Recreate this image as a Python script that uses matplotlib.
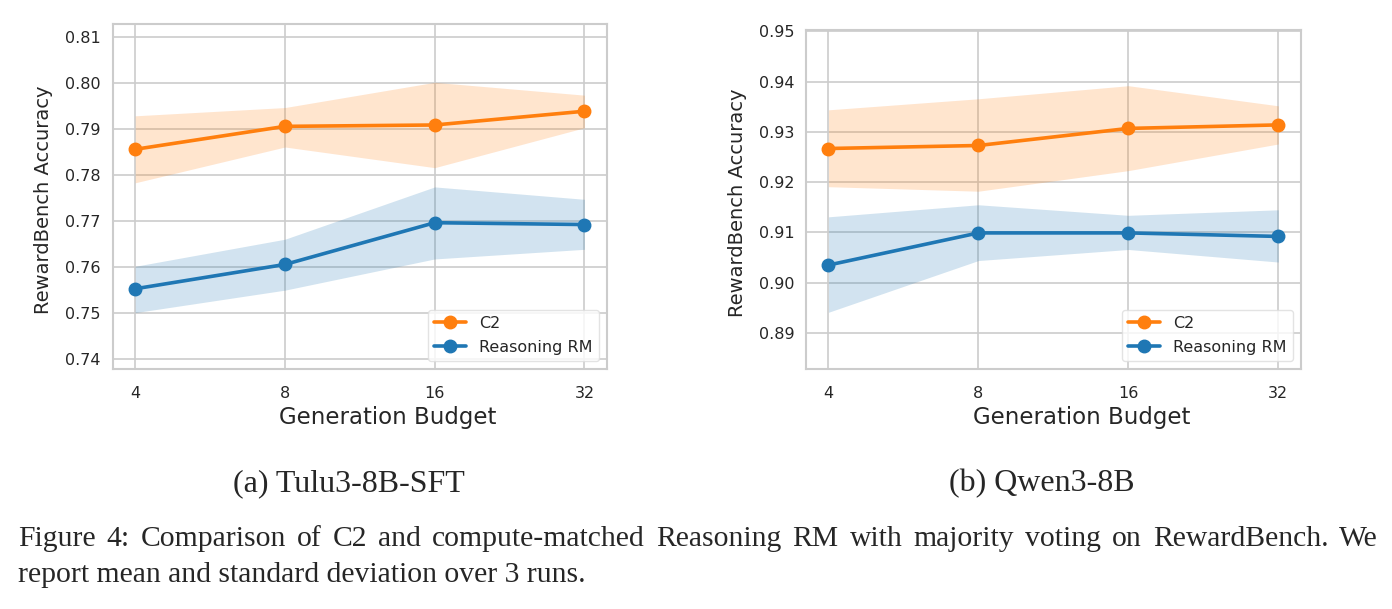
import matplotlib
matplotlib.use("Agg")
import matplotlib.pyplot as plt
import numpy as np
import seaborn as sns

budgets = [4, 8, 16, 32]

# (a) Tulu3-8B-SFT
tulu_c2 = [0.7856, 0.7906, 0.7909, 0.7939]
tulu_c2_lo = [0.7783, 0.7861, 0.7816, 0.7903]
tulu_c2_hi = [0.7929, 0.7947, 0.8002, 0.7974]
tulu_rm = [0.7552, 0.7605, 0.7696, 0.7692]
tulu_rm_lo = [0.7500, 0.7549, 0.7617, 0.7638]
tulu_rm_hi = [0.7601, 0.7660, 0.7774, 0.7747]

# (b) Qwen3-8B
qwen_c2 = [0.9267, 0.9273, 0.9307, 0.9314]
qwen_c2_lo = [0.9191, 0.9182, 0.9223, 0.9276]
qwen_c2_hi = [0.9344, 0.9366, 0.9392, 0.9352]
qwen_rm = [0.9035, 0.9099, 0.9099, 0.9092]
qwen_rm_lo = [0.8941, 0.9044, 0.9066, 0.9041]
qwen_rm_hi = [0.9131, 0.9155, 0.9134, 0.9145]

caption_1 = 'Figure 4: Comparison of C2 and compute-matched Reasoning RM with majority voting on RewardBench.  We'
caption_2 = 'report mean and standard deviation over 3 runs.'

sns.set_style("whitegrid")
plt.rcParams['font.family'] = ['DejaVu Sans']

W, H = 1392, 609
fig = plt.figure(figsize=(W / 100, H / 100), dpi=100)
ax1 = fig.add_axes([0.081, 0.394, 0.355, 0.5665])
ax2 = fig.add_axes([0.579, 0.394, 0.3555, 0.556])

x = np.arange(len(budgets))


def panel(ax, c2, c2_lo, c2_hi, rm, rm_lo, rm_hi, yticks, ylim):
    ax.fill_between(x, c2_lo, c2_hi, color='tab:orange', alpha=0.2, lw=0)
    ax.plot(x, c2, '-o', color='tab:orange', lw=2.6, ms=9, label='C2')
    ax.fill_between(x, rm_lo, rm_hi, color='tab:blue', alpha=0.2, lw=0)
    ax.plot(x, rm, '-o', color='tab:blue', lw=2.6, ms=9, label='Reasoning RM')
    ax.set_xticks(x)
    ax.set_xticklabels([str(b) for b in budgets])
    ax.set_yticks(yticks)
    ax.set_yticklabels(['%.2f' % t for t in yticks])
    ax.set_ylim(*ylim)
    ax.set_xlim(-0.15, 3.15)
    ax.tick_params(axis='y', labelsize=11.5, colors='#262626', pad=5)
    ax.tick_params(axis='x', labelsize=11.5, colors='#262626', pad=9)
    ax.set_xlabel('Generation Budget', fontsize=16.5, color='#262626')
    ax.set_ylabel('RewardBench Accuracy', fontsize=14, color='#262626')
    for s in ax.spines.values():
        s.set_color('#cccccc')
        s.set_linewidth(1.5)
    ax.grid(color='#cccccc', lw=1.2)
    leg = ax.legend(loc='lower right', fontsize=11.5, frameon=True,
                    borderaxespad=0.5, handlelength=2.0, labelspacing=0.55)
    leg.get_frame().set_edgecolor('#dddddd')


panel(ax1, tulu_c2, tulu_c2_lo, tulu_c2_hi, tulu_rm, tulu_rm_lo, tulu_rm_hi,
      [0.74, 0.75, 0.76, 0.77, 0.78, 0.79, 0.80, 0.81], (0.7377, 0.8129))
panel(ax2, qwen_c2, qwen_c2_lo, qwen_c2_hi, qwen_rm, qwen_rm_lo, qwen_rm_hi,
      [0.89, 0.90, 0.91, 0.92, 0.93, 0.94, 0.95], (0.8828, 0.9502))

ax1.yaxis.set_label_coords(-0.121, 0.49)
ax2.yaxis.set_label_coords(-0.119, 0.49)
ax1.xaxis.set_label_coords(0.556, -0.107)
ax2.xaxis.set_label_coords(0.558, -0.109)

serif = 'Liberation Serif'
fig.text(349 / W, 1 - 484 / H, '(a) Tulu3-8B-SFT', family=serif,
         fontsize=23, ha='center', va='center')
fig.text(1042 / W, 1 - 484 / H, '(b) Qwen3-8B', family=serif,
         fontsize=23, ha='center', va='center')

# justified first caption line
cap_fs = 21.3
fig.canvas.draw()
renderer = fig.canvas.get_renderer()
words = caption_1.split()
widths = []
for w in words:
    t = fig.text(0, 0, w, family=serif, fontsize=cap_fs)
    widths.append(t.get_window_extent(renderer).width)
    t.remove()
x0, x1 = 18, 1378
gap = (x1 - x0 - sum(widths)) / (len(words) - 1)
xp = x0
for w, wd in zip(words, widths):
    fig.text(xp / W, 1 - 539 / H, w, family=serif, fontsize=cap_fs,
             ha='left', va='center')
    xp += wd + gap

fig.text(x0 / W, 1 - 575 / H, caption_2, family=serif, fontsize=cap_fs,
         ha='left', va='center')

fig.savefig('out.png', dpi=100)
